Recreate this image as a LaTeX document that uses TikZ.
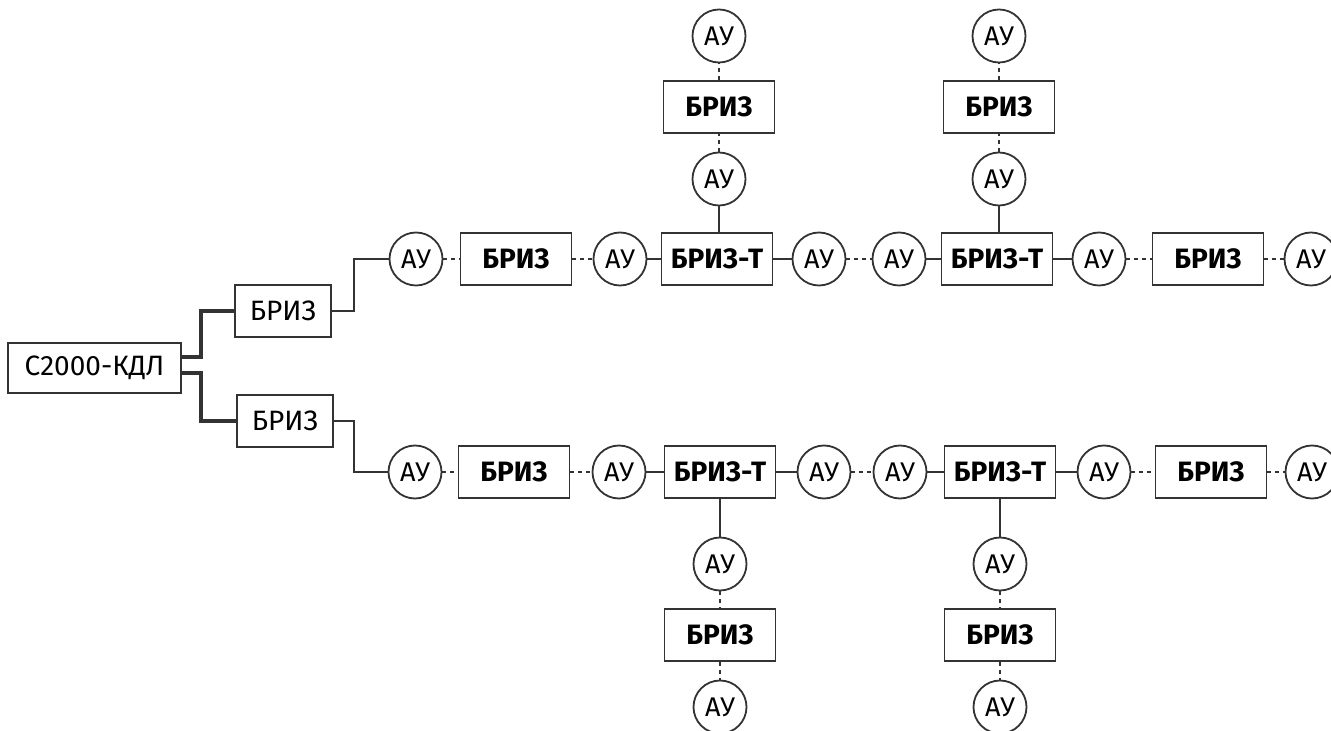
\documentclass[tikz,border=0pt]{standalone}
\usepackage{fontspec}
\setmainfont{Fira Sans}
\usetikzlibrary{positioning}

\tikzset{
  box/.style = {draw=black!80, fill=white, line width=0.9pt, inner sep=0pt,
                minimum height=26pt, font=\fontsize{14}{16}\selectfont},
  dev/.style = {box, minimum width=55.5pt, font=\fontsize{14}{16}\selectfont\bfseries},
  spl/.style = {box, minimum width=48pt},
  au/.style  = {circle, draw=black!80, fill=white, line width=0.9pt, inner sep=0pt,
                minimum size=26.5pt, font=\fontsize{13.5}{16}\selectfont},
  link/.style = {draw=black!80, line width=1pt},
  dots/.style = {link, dash pattern=on 1.8pt off 2.2pt},
  bus/.style  = {draw=black!80, line width=1.9pt},
}

\begin{document}
\begin{tikzpicture}[x=0.5pt, y=-0.5pt]
    \useasboundingbox (0,0) rectangle (1331,731);

    % head and splitters
    \node[box, minimum width=86.5pt, minimum height=25pt] (kdl) at (94.5,368) {С2000-КДЛ};
    \node[spl] (sp1) at (283,311) {БРИЗ};
    \node[spl] (sp2) at (285,421) {БРИЗ};

    % upper loop
    \node[au]  (t1)  at (416,259)  {АУ};
    \node[dev] (t2)  at (516,259)  {БРИЗ};
    \node[au]  (t3)  at (620,259)  {АУ};
    \node[dev] (t4)  at (717,259)  {БРИЗ-Т};
    \node[au]  (t5)  at (819,259)  {АУ};
    \node[au]  (t6)  at (899,259)  {АУ};
    \node[dev] (t7)  at (997,259)  {БРИЗ-Т};
    \node[au]  (t8)  at (1099,259) {АУ};
    \node[dev] (t9)  at (1208,259) {БРИЗ};
    \node[au]  (t10) at (1311,259) {АУ};
    \node[au]  (ua1) at (719,179)  {АУ};
    \node[dev] (ub1) at (719,107)  {БРИЗ};
    \node[au]  (uc1) at (719,36)   {АУ};
    \node[au]  (ua2) at (999,179)  {АУ};
    \node[dev] (ub2) at (999,107)  {БРИЗ};
    \node[au]  (uc2) at (999,36)   {АУ};

    % lower loop
    \node[au]  (b1)  at (415,472)  {АУ};
    \node[dev] (b2)  at (514,472)  {БРИЗ};
    \node[au]  (b3)  at (619,472)  {АУ};
    \node[dev] (b4)  at (720,472)  {БРИЗ-Т};
    \node[au]  (b5)  at (824,472)  {АУ};
    \node[au]  (b6)  at (900,472)  {АУ};
    \node[dev] (b7)  at (1000,472) {БРИЗ-Т};
    \node[au]  (b8)  at (1104,472) {АУ};
    \node[dev] (b9)  at (1211,472) {БРИЗ};
    \node[au]  (b10) at (1312,472) {АУ};
    \node[au]  (la1) at (720,564)  {АУ};
    \node[dev] (lb1) at (720,635)  {БРИЗ};
    \node[au]  (lc1) at (720,707)  {АУ};
    \node[au]  (la2) at (1000,564) {АУ};
    \node[dev] (lb2) at (1000,635) {БРИЗ};
    \node[au]  (lc2) at (1000,707) {АУ};

    % head to splitters
    \draw[bus] ([yshift=5.5pt]kdl.east) -- ++(19,0) |- (sp1.west);
    \draw[bus] ([yshift=-2.5pt]kdl.east) -- ++(19,0) |- (sp2.west);
    \draw[link] (sp1.east) -- ++(22,0) |- (t1.west);
    \draw[link] (sp2.east) -- ++(20,0) |- (b1.west);

    % upper loop links
    \draw[dots] (t1) -- (t2);
    \draw[dots] (t2) -- (t3);
    \draw[link] (t3) -- (t4);
    \draw[link] (t4) -- (t5);
    \draw[dots] (t5) -- (t6);
    \draw[link] (t6) -- (t7);
    \draw[link] (t7) -- (t8);
    \draw[dots] (t8) -- (t9);
    \draw[dots] (t9) -- (t10);
    \draw[link] (t4.north -| ua1) -- (ua1);
    \draw[dots] (ua1) -- (ub1);
    \draw[dots] (ub1) -- (uc1);
    \draw[link] (t7.north -| ua2) -- (ua2);
    \draw[dots] (ua2) -- (ub2);
    \draw[dots] (ub2) -- (uc2);

    % lower loop links
    \draw[dots] (b1) -- (b2);
    \draw[dots] (b2) -- (b3);
    \draw[link] (b3) -- (b4);
    \draw[link] (b4) -- (b5);
    \draw[dots] (b5) -- (b6);
    \draw[link] (b6) -- (b7);
    \draw[link] (b7) -- (b8);
    \draw[dots] (b8) -- (b9);
    \draw[dots] (b9) -- (b10);
    \draw[link] (b4) -- (la1);
    \draw[dots] (la1) -- (lb1);
    \draw[dots] (lb1) -- (lc1);
    \draw[link] (b7) -- (la2);
    \draw[dots] (la2) -- (lb2);
    \draw[dots] (lb2) -- (lc2);
\end{tikzpicture}
\end{document}
